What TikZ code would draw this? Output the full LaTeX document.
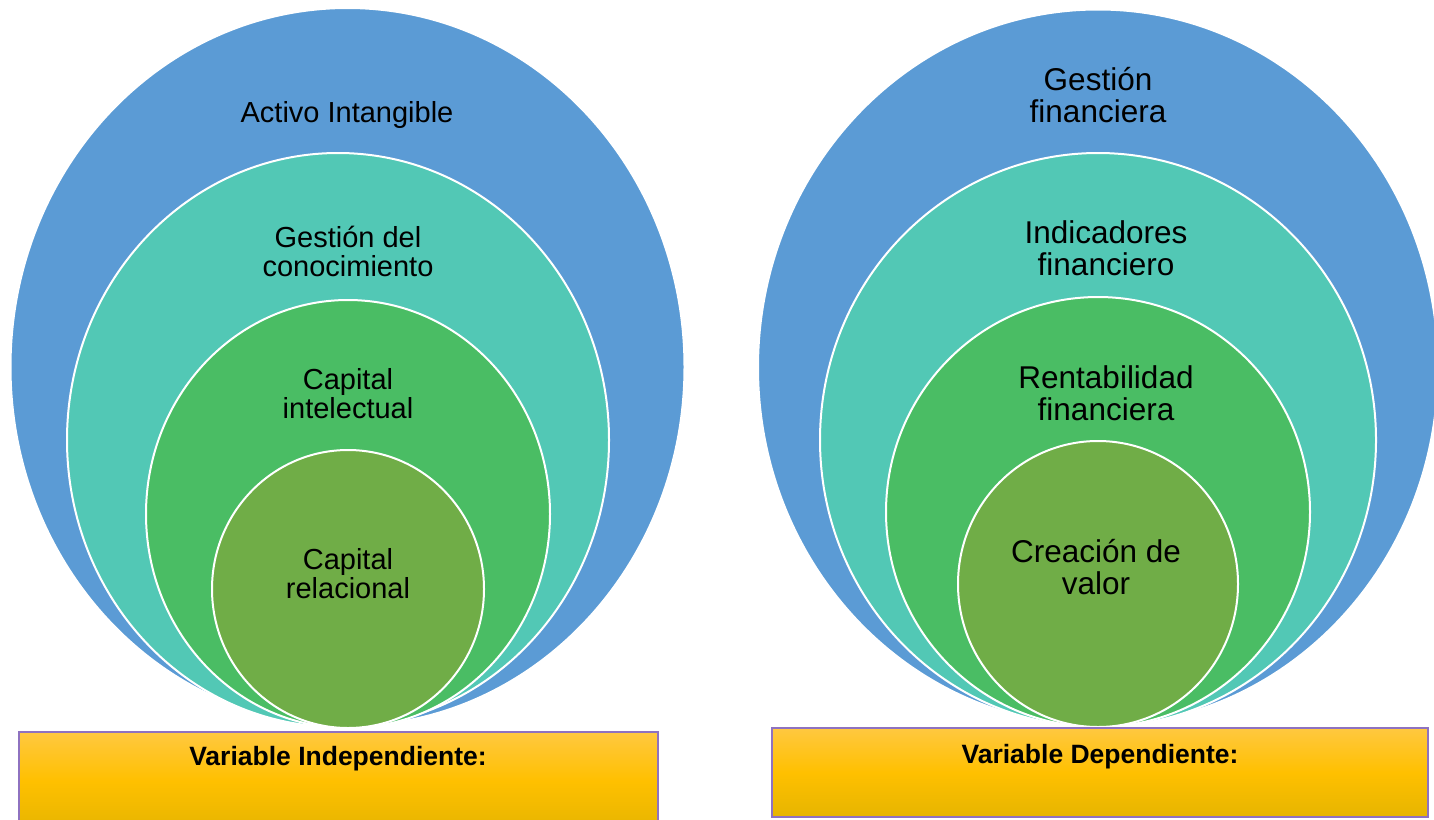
\documentclass[tikz,border=0pt]{standalone}
\usepackage{fontspec}
\setmainfont{Liberation Sans}
\definecolor{ringblue}{HTML}{5B9BD5}
\definecolor{ringteal}{HTML}{52C8B5}
\definecolor{ringgreen}{HTML}{4ABD64}
\definecolor{ringolive}{HTML}{70AD47}
\definecolor{boxedge}{HTML}{8E72C0}
\definecolor{goldtop}{HTML}{FFC840}
\definecolor{goldmid}{HTML}{FFC000}
\definecolor{goldbot}{HTML}{E6B500}
\begin{document}
\begin{tikzpicture}[x=1pt,y=-1pt,
  ring/.style={draw=white,line width=2pt},
  leftlabel/.style={align=center,font=\fontsize{29}{29}\selectfont},
  rightlabel/.style={align=center,font=\fontsize{31.5}{32}\selectfont},
  varbox/.style={draw=boxedge,line width=1.5pt,top color=goldtop,bottom color=goldbot,middle color=goldmid},
  vartext/.style={font=\fontsize{26.5}{26.5}\selectfont\bfseries}]
\useasboundingbox (0,0) rectangle (1434,819);
\clip (0,0) rectangle (1434,819);

% left set of nested rings
\filldraw[ring,fill=ringblue]  (347.5,367) ellipse [x radius=337pt,y radius=359pt];
\filldraw[ring,fill=ringteal]  (338,440)   ellipse [x radius=271pt,y radius=287pt];
\filldraw[ring,fill=ringgreen] (348,514)   ellipse [x radius=202pt,y radius=214pt];
\filldraw[ring,fill=ringolive] (348,589)   ellipse [x radius=136pt,y radius=139pt];

\node[leftlabel] (activo) at (347,115) {Activo Intangible};
\node[leftlabel] (gestcon) at (348,251) {Gestión del\\conocimiento};
\node[leftlabel] (capint) at (348,394) {Capital\\intelectual};
\node[leftlabel] (caprel) at (348,574) {Capital\\relacional};

% right set of nested rings
\filldraw[ring,fill=ringblue]  (1098,367.5) ellipse [x radius=340pt,y radius=358pt];
\filldraw[ring,fill=ringteal]  (1098,440)   ellipse [x radius=278pt,y radius=287pt];
\filldraw[ring,fill=ringgreen] (1098,512)   ellipse [x radius=212pt,y radius=215pt];
\filldraw[ring,fill=ringolive] (1098,584)   ellipse [x radius=140pt,y radius=143pt];

\node[rightlabel] (gestfin) at (1098,95) {Gestión\\financiera};
\node[rightlabel] (indfin) at (1106,248) {Indicadores\\financiero};
\node[rightlabel] (rentfin) at (1106,393) {Rentabilidad\\financiera};
\node[rightlabel] (creval) at (1096,567) {Creación de\\valor};

% variable boxes
\path[varbox] (19,732) rectangle (658,830);
\node[vartext] (indep) at (338,759) {Variable Independiente:};
\path[varbox] (772,728) rectangle (1428,817);
\node[vartext] (dep) at (1100,757) {Variable Dependiente:};
\end{tikzpicture}
\end{document}
